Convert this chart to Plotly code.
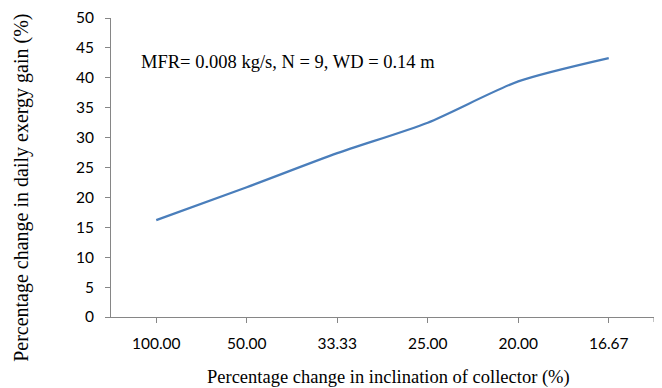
import plotly.graph_objects as go

# Inclination change categories and exergy gain change (%)
inclination_labels = ["100.00", "50.00", "33.33", "25.00", "20.00", "16.67"]
exergy_gain_change = [16.2, 21.7, 27.4, 32.5, 39.4, 43.3]
y_ticks = list(range(0, 51, 5))

axis_color = "#868686"
tick_font = dict(family="Lato, Carlito, Calibri, sans-serif", size=15.5, color="#000000")
serif = "Liberation Serif, Times New Roman, serif"

fig = go.Figure()
fig.add_trace(go.Scatter(
    x=inclination_labels,
    y=exergy_gain_change,
    mode="lines",
    line=dict(color="#4a7ebb", width=2.2, shape="spline", smoothing=0.7),
    showlegend=False,
    hoverinfo="skip",
))

fig.update_layout(
    width=662,
    height=388,
    margin=dict(l=111, r=8, t=16, b=71),
    paper_bgcolor="white",
    plot_bgcolor="white",
    xaxis=dict(
        type="category",
        range=[-0.5, 5.5],
        showline=True,
        linecolor=axis_color,
        linewidth=1,
        showgrid=False,
        zeroline=False,
        ticks="outside",
        ticklen=5,
        tickcolor=axis_color,
        tickfont=tick_font,
        ticklabelstandoff=7,
    ),
    yaxis=dict(
        range=[0, 50],
        tickvals=y_ticks,
        showline=True,
        linecolor=axis_color,
        linewidth=1,
        showgrid=False,
        zeroline=False,
        ticks="outside",
        ticklen=5,
        tickcolor=axis_color,
        tickfont=tick_font,
        ticklabelstandoff=8,
    ),
    annotations=[
        dict(text="MFR= 0.008 kg/s, N = 9, WD = 0.14 m", xref="paper", yref="paper",
             x=(139 - 111) / 543, y=(317 - 60) / 301, xanchor="left", yanchor="middle",
             showarrow=False, font=dict(family=serif, size=18.5, color="#000000")),
        dict(text="Percentage change in inclination of collector (%)", xref="paper", yref="paper",
             x=(388 - 111) / 543, y=(317 - 378) / 301, xanchor="center", yanchor="middle",
             showarrow=False, font=dict(family=serif, size=18.5, color="#000000")),
        dict(text="Percentage change in daily exergy gain (%)", xref="paper", yref="paper",
             x=(22 - 111) / 543, y=(317 - 187) / 301, xanchor="center", yanchor="middle",
             textangle=-90, showarrow=False, font=dict(family=serif, size=20, color="#000000")),
    ],
    shapes=[
        # closing tick at the right end of the category axis
        dict(type="line", xref="x", yref="paper", x0=5.5, x1=5.5, y0=0, y1=-5 / 301,
             line=dict(color=axis_color, width=1)),
    ],
)

fig.write_html("out.html")
